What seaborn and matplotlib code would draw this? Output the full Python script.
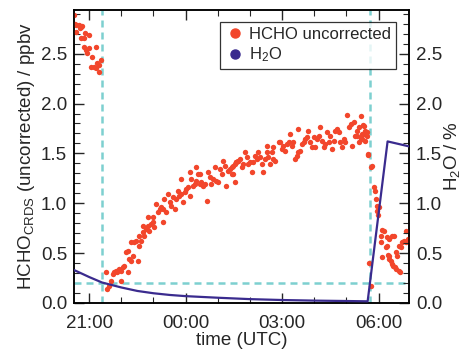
import numpy as np
import pandas as pd
import seaborn as sns
import matplotlib.pyplot as plt
from matplotlib.lines import Line2D
from matplotlib.ticker import MultipleLocator

# time in hours relative to 00:00 UTC (21:00 -> -3)
seg1_t = [-3.47, -3.41, -3.31, -3.25, -3.41, -3.22, -3.25, -3.16, -3.13, -3.0, -3.16, -3.09,
          -3.06, -3.0, -2.91, -2.78, -2.94, -2.84, -2.78, -2.75, -2.69, -2.62, -2.69, -3.44, -3.28]
seg1_v = [2.89, 2.72, 2.79, 2.77, 2.79, 2.78, 2.66, 2.66, 2.71, 2.69, 2.57, 2.54,
          2.51, 2.56, 2.47, 2.57, 2.37, 2.37, 2.36, 2.41, 2.32, 2.44, 2.39, 2.80, 2.76]

seg2_t = [-2.43, -2.38, -2.46, -2.32, -2.27, -2.22, -2.17, -2.12, -2.06, -2.01, -1.96, -1.91,
          -1.80, -2.01, -1.85, -1.80, -1.75, -1.70, -1.65, -1.49, -1.70, -1.59, -1.54, -1.44,
          -1.39, -1.44, -1.33, -1.28, -1.33, -1.23, -1.18, -1.13, -1.07, -1.02, -0.97, -1.18,
          -1.02, -0.87, -0.81, -0.76, -0.71, -0.66, -0.60, -0.71, -0.92, -0.55, -0.50, -0.45,
          -0.40, -0.34, -0.29, -0.24, -0.19, -0.14, -0.08, -0.03, 0.02, 0.07, 0.13, 0.18,
          0.23, 0.28, 0.33, 0.39, 0.44, 0.49, 0.54, 0.59, 0.65, 0.70, 0.75, 0.80,
          0.85, 0.91, 0.96, 1.01, 1.06, 1.12, 1.17, 1.22, 1.27, 1.32, 1.38, 1.43,
          1.48, 1.53, 1.58, 1.64, -0.14, 0.13, 0.33, 0.44,
          1.43, 1.48, 1.53, 1.58, 1.64, 1.69, 1.74, 1.79, 1.84, 1.90, 1.95, 2.00,
          2.05, 2.10, 2.16, 2.21, 2.26, 2.31, 2.37, 2.42, 2.47, 2.52, 2.57, 2.63,
          2.68, 2.73, 2.78, 2.52, 2.73, 2.89, 2.94, 2.99, 3.04, 3.09, 3.15, 3.20,
          3.25, 3.30, 3.35, 3.41, 3.46, 3.51, 3.56, 3.62, 3.51, 3.67, 3.72, 3.77,
          3.82, 3.88, 3.93, 3.98, 4.03, 4.08, 4.14, 4.19, 4.24, 4.29, 4.34, 4.40,
          4.45, 4.50, 4.55, 4.60, 4.66, 4.71, 4.76, 4.81, 4.87, 4.92, 4.97, 5.02,
          5.07, 5.13, 5.18, 5.23, 5.28, 5.33, 5.39, 5.44, 5.49, 5.54, 5.59, 5.65,
          5.68, 5.44, 5.51, 5.39, 5.33, 5.44, 5.54, 5.59, 5.65, 5.59, 5.49]
seg2_v = [0.14, 0.17, 0.31, 0.22, 0.29, 0.31, 0.32, 0.31, 0.34, 0.32, 0.36, 0.37,
          0.31, 0.22, 0.51, 0.52, 0.44, 0.42, 0.47, 0.42, 0.61, 0.61, 0.62, 0.57,
          0.62, 0.67, 0.71, 0.67, 0.77, 0.74, 0.77, 0.72, 0.79, 0.81, 0.76, 0.86,
          0.86, 0.91, 0.94, 0.96, 0.94, 1.04, 0.91, 0.81, 0.99, 1.09, 1.01, 0.97,
          1.06, 0.94, 1.04, 1.12, 1.07, 1.09, 1.01, 1.11, 1.14, 1.16, 1.07, 1.24,
          1.17, 1.19, 1.22, 1.29, 1.19, 1.21, 1.17, 1.19, 1.02, 1.31, 1.26, 1.19,
          1.24, 1.36, 1.22, 1.21, 1.34, 1.29, 1.42, 1.37, 1.17, 1.32, 1.34, 1.29,
          1.37, 1.39, 1.41, 1.42, 1.24, 1.31, 1.36, 1.29,
          1.36, 1.29, 1.21, 1.41, 1.42, 1.44, 1.36, 1.39, 1.51, 1.46, 1.39, 1.41,
          1.31, 1.41, 1.47, 1.44, 1.51, 1.46, 1.39, 1.31, 1.44, 1.51, 1.46, 1.39,
          1.51, 1.44, 1.42, 1.57, 1.56, 1.61, 1.61, 1.54, 1.57, 1.52, 1.59, 1.61,
          1.69, 1.57, 1.61, 1.44, 1.47, 1.51, 1.52, 1.59, 1.74, 1.61, 1.64, 1.66,
          1.72, 1.61, 1.56, 1.66, 1.56, 1.64, 1.67, 1.76, 1.62, 1.56, 1.59, 1.71,
          1.61, 1.67, 1.54, 1.62, 1.72, 1.74, 1.71, 1.61, 1.56, 1.64, 1.61, 1.89,
          1.76, 1.79, 1.57, 1.81, 1.67, 1.72, 1.61, 1.64, 1.69, 1.77, 1.71, 1.67,
          1.49, 1.87, 1.78, 1.76, 1.67, 1.66, 1.69, 1.72, 1.71, 1.62, 1.64]

seg3_t = [5.68, 5.75, 5.80, 5.85, 5.89, 5.91, 5.96, 6.01, 5.99, 5.96, 5.70, 5.75,
          6.12, 6.17, 6.06, 6.09, 6.27, 6.32, 6.27, 6.43, 6.48, 6.22, 6.32, 6.38,
          6.30, 6.41, 6.45, 6.51, 6.55, 6.62, 6.66, 6.53, 6.58, 6.64, 6.69, 6.74,
          6.79, 6.84, 6.90, 6.93, 6.84, 6.12, 6.32]
seg3_v = [1.48, 1.36, 1.37, 1.16, 1.12, 1.04, 0.92, 0.96, 0.88, 0.97, 0.40, 0.17,
          0.73, 0.72, 0.67, 0.61, 0.66, 0.64, 0.57, 0.67, 0.67, 0.56, 0.44, 0.42,
          0.48, 0.39, 0.37, 0.36, 0.34, 0.32, 0.31, 0.51, 0.47, 0.57, 0.56, 0.61,
          0.62, 0.61, 0.64, 0.62, 0.72, 0.46, 0.47]

h2o_t = [-3.47, -3.2, -3.0, -2.6, -2.0, -1.5, -1.0, -0.5, 0.0, 1.0, 2.0, 3.0, 4.0, 5.0, 5.66, 6.28, 6.95]
h2o_v = [0.33, 0.29, 0.26, 0.205, 0.155, 0.12, 0.097, 0.08, 0.068, 0.052, 0.038, 0.029, 0.023, 0.019, 0.016, 1.62, 1.57]

tick_pos = [-3, 0, 3, 6]
tick_labels = ['21:00', '00:00', '03:00', '06:00']
vlines = [-2.6, 5.74]
hline = 0.2

red = '#f2462b'
blue = '#3a2b8e'
cyan = '#7dd0d0'

hcho = pd.DataFrame({'t': seg1_t + seg2_t + seg3_t, 'v': seg1_v + seg2_v + seg3_v})
h2o = pd.DataFrame({'t': h2o_t, 'v': h2o_v})

sns.set_style('ticks')
plt.rcParams['font.family'] = ['Liberation Sans', 'DejaVu Sans']
plt.rcParams['mathtext.fontset'] = 'custom'
plt.rcParams['mathtext.rm'] = 'Liberation Sans'
plt.rcParams['mathtext.it'] = 'Liberation Sans'

fig = plt.figure(figsize=(4.61, 3.51), dpi=100)
ax = fig.add_axes([0.1605, 0.137, 0.727, 0.835])

for x in vlines:
    ax.axvline(x, color=cyan, lw=1.8, dashes=(2.8, 2.0), zorder=1)
ax.axhline(hline, color=cyan, lw=1.8, dashes=(2.8, 2.0), zorder=1)

sns.scatterplot(data=hcho, x='t', y='v', ax=ax, color=red, s=15, linewidth=0, zorder=3)

ax2 = ax.twinx()
sns.lineplot(data=h2o, x='t', y='v', ax=ax2, color=blue, lw=1.6, zorder=4)

xlim = (-3.47, 6.95)
ylim = (0.0, 2.94)
for a in (ax, ax2):
    a.set_xlim(*xlim)
    a.set_ylim(*ylim)
    a.yaxis.set_major_locator(MultipleLocator(0.5))
    a.yaxis.set_minor_locator(MultipleLocator(0.1))
    for s in a.spines.values():
        s.set_linewidth(1.1)
        s.set_color('black')

ax.set_xticks(tick_pos)
ax.set_xticklabels(tick_labels)
ax.xaxis.set_minor_locator(MultipleLocator(1))
ax.tick_params(axis='both', which='major', direction='in', length=7, width=1.0,
               labelsize=13.5, top=True, pad=5)
ax.tick_params(axis='x', which='major', pad=9)
ax.tick_params(axis='both', which='minor', direction='in', length=4, width=0.8, top=True)
ax.tick_params(axis='y', right=False, which='both')
ax2.tick_params(axis='y', which='major', direction='in', length=7, width=1.0, labelsize=13.5, pad=5)
ax2.tick_params(axis='y', which='minor', direction='in', length=4, width=0.8)
ax.yaxis.set_major_formatter(plt.FormatStrFormatter('%.1f'))
ax2.yaxis.set_major_formatter(plt.FormatStrFormatter('%.1f'))

ax.set_xlabel('time (UTC)', fontsize=13.5, labelpad=0)
ax.set_ylabel('HCHO$_{\\rm CRDS}$ (uncorrected) / ppbv', fontsize=13.5, labelpad=3)
ax2.set_ylabel('H$_2$O / %', fontsize=13.5, labelpad=0)
ax2.set_xlabel('')

handles = [Line2D([], [], marker='o', ls='', color=red, markersize=6.5),
           Line2D([], [], marker='o', ls='', color=blue, markersize=6.5)]
leg = ax2.legend(handles, ['HCHO uncorrected', 'H$_2$O'], loc='upper right',
                 bbox_to_anchor=(0.96, 0.96), fontsize=12, frameon=True, fancybox=False,
                 handletextpad=0.2, borderpad=0.3, labelspacing=0.25, handlelength=1.2,
                 borderaxespad=0)
leg.get_frame().set_edgecolor('black')
leg.get_frame().set_linewidth(0.9)

fig.savefig('out.png', dpi=100)
